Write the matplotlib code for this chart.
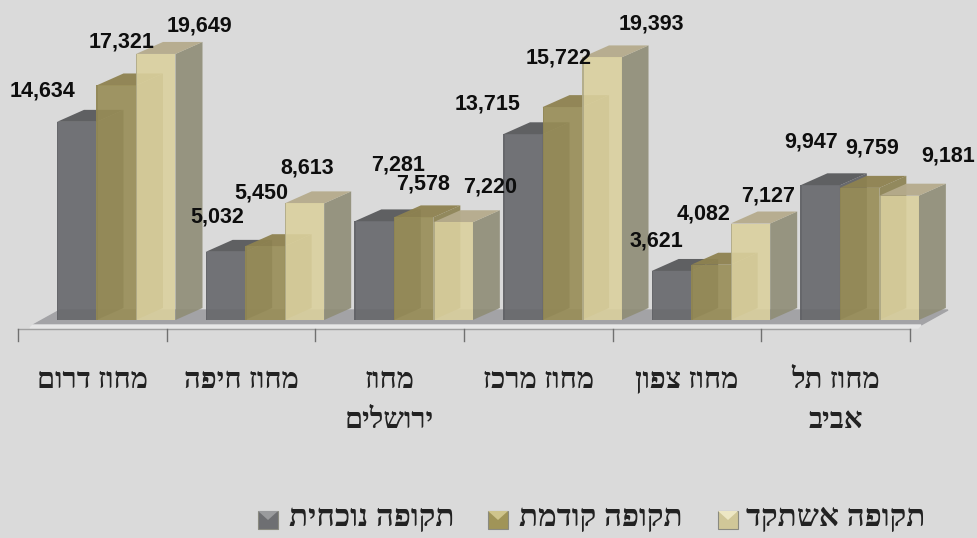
import matplotlib
matplotlib.use('Agg')
import matplotlib.pyplot as plt

# hebrew is typed in logical order, matplotlib has no bidi so it gets flipped on draw
categories = ['מחוז דרום', 'מחוז חיפה', 'מחוז\nירושלים', 'מחוז מרכז', 'מחוז צפון', 'מחוז תל\nאביב']
series_names = ['תקופה נוכחית', 'תקופה קודמת', 'תקופה אשתקד']
current = [14634, 5032, 7281, 13715, 3621, 9947]
previous = [17321, 5450, 7578, 15722, 4082, 9759]
last_year = [19649, 8613, 7220, 19393, 7127, 9181]

BG = '#DADADA'
W, H = 978, 538
X0, PITCH = 18, 148.67   # pixel of first tick, pixels per category
Y0, YSCALE = 320, 0.01354  # pixel of zero, pixels per unit

front_cols = ['#66676B', '#988D56', '#DAD09E']
side_cols = ['#5C5D61', '#8A8050', '#8F8D76']
top_cols = ['#58595C', '#8E8250', '#B5AB8C']
swatch_cols = ['#6E6F72', '#A09458', '#D0C798']
bevel_cols = ['#9A9B9D', '#CFC48C', '#EDE7C4']

# label centres in pixels, per series then category
label_px = [
    [(43, 91), (217, 217), (398, 165), (488, 104), (656, 241), (811, 142)],
    [(122, 42), (261, 193), (423, 184), (559, 58), (704, 214), (872, 148)],
    [(199, 26), (307, 168), (490, 187), (651, 24), (768, 196), (948, 156)],
]


def px_x(p):
    return (p - X0) / PITCH


def px_y(p):
    return (Y0 - p) / YSCALE


def rtl(s):
    return '\n'.join(line[::-1] for line in s.split('\n'))


fig = plt.figure(figsize=(W / 100, H / 100), dpi=100, facecolor=BG)
ax = fig.add_axes([0, 0, 1, 1])
ax.set_xlim(px_x(0), px_x(W))
ax.set_ylim(px_y(H), px_y(0))
ax.axis('off')

bar_w = 39.5 / PITCH
dx = 27 / PITCH
dy = 12 / YSCALE

# floor
ax.fill([px_x(33), px_x(60), px_x(948), px_x(921)],
        [px_y(325), px_y(310), px_y(310), px_y(325)], color='#A3A3A6', zorder=1)
ax.fill([px_x(33), px_x(921), px_x(918), px_x(30)],
        [px_y(325), px_y(325), px_y(328), px_y(328)], color='#E6E6E6', zorder=1)

# axis line and ticks
ax.plot([0, 6], [px_y(329), px_y(329)], color='#A0A0A0', lw=1, zorder=1)
for i in range(7):
    ax.plot([i, i], [px_y(329), px_y(341)], color='#707070', lw=1, zorder=1)

for s, vals in enumerate([current, previous, last_year]):
    for i, v in enumerate(vals):
        z = 2 + i * 3 + s * 3
        left = i + 39 / PITCH + s * bar_w
        ax.fill([left + bar_w, left + bar_w + dx, left + bar_w + dx, left + bar_w],
                [0, dy, v + dy, v], color=side_cols[s], alpha=0.9, lw=0, zorder=z)
        ax.fill([left, left + dx, left + bar_w + dx, left + bar_w],
                [v, v + dy, v + dy, v], color=top_cols[s], alpha=0.95, lw=0, zorder=z)
        ax.bar(left, v, bar_w, align='edge', color=front_cols[s], alpha=0.9, lw=0, zorder=z + 1)
        # thin darker edge down the left of the front face
        ax.bar(left, v, 1.5 / PITCH, align='edge', color=side_cols[s], alpha=0.5, lw=0, zorder=z + 1)

for s, vals in enumerate([current, previous, last_year]):
    for i, v in enumerate(vals):
        px, py = label_px[s][i]
        ax.text(px_x(px), px_y(py), f'{v:,}', ha='center', va='center', zorder=100,
                family='Liberation Sans', weight='bold', fontsize=15.5, color='#0E0E0E')

for i, name in enumerate(categories):
    ax.text(i + 0.5, px_y(367), rtl(name), ha='center', va='top', family='Liberation Serif',
            weight='bold', fontsize=21, color='#222222', linespacing=1.62)

# legend
legend_swatches = [258, 488, 718]
legend_text = [455, 683, 925]
for s, name in enumerate(series_names):
    sx = legend_swatches[s]
    ax.bar(px_x(sx), px_y(511) - px_y(529), 20 / PITCH, bottom=px_y(529), align='edge',
           color=swatch_cols[s], edgecolor='#8a8a80', lw=0.8)
    ax.fill([px_x(sx), px_x(sx + 20), px_x(sx + 10)],
            [px_y(511), px_y(511), px_y(520)], color=bevel_cols[s], lw=0)
    ax.text(px_x(legend_text[s]), px_y(519), name[::-1], ha='right', va='center',
            family='Liberation Serif', weight='bold', fontsize=22.5, color='#222222')

fig.savefig('out.png', dpi=100, facecolor=BG)
